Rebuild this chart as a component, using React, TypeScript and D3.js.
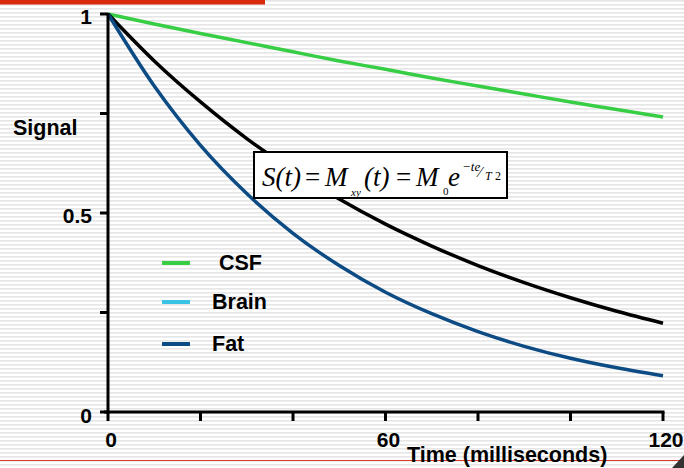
import React from "react";
import * as d3 from "d3";

const times = [0, 10, 20, 30, 40, 50, 60, 70, 80, 90, 100, 110, 120];
const csf = [1, 0.975, 0.951, 0.928, 0.905, 0.882, 0.861, 0.839, 0.819, 0.799, 0.779, 0.76, 0.741];
const brain = [1, 0.882, 0.779, 0.687, 0.607, 0.535, 0.472, 0.417, 0.368, 0.325, 0.287, 0.253, 0.223];
const fat = [1, 0.819, 0.67, 0.549, 0.449, 0.368, 0.301, 0.247, 0.202, 0.165, 0.135, 0.111, 0.091];
const xTicks = [0, 20, 40, 60, 80, 100, 120];
const xTickLabels = [0, 60, 120];
const yTicks = [0, 0.25, 0.5, 0.75, 1];
const yTickLabels = [0, 0.5, 1];
const legendItems = [
  { label: "CSF", color: "#37cd45" },
  { label: "Brain", color: "#39c2e2" },
  { label: "Fat", color: "#0c4b84" },
];

const W = 684;
const H = 468;

export default function App() {
  const x = d3.scaleLinear().domain([0, 120]).range([108, 663]);
  const y = d3.scaleLinear().domain([0, 1]).range([412, 14]);
  const line = d3
    .line<number>()
    .x((_, i) => x(times[i]))
    .y((d) => y(d))
    .curve(d3.curveMonotoneX);

  const bold = { fontFamily: "Liberation Sans, Arial, sans-serif", fontWeight: 700, fontSize: 21.5 };
  const serif = { fontFamily: "Liberation Serif, Times New Roman, serif", fontStyle: "italic" as const };

  const legendY = [263, 302, 344];
  const legendTextX = [219, 212, 212];

  return (
    <svg width={W} height={H} style={{ position: "absolute", left: 0, top: 0 }}>
      <defs>
        <pattern id="bg" width={8} height={4} patternUnits="userSpaceOnUse">
          <rect width={8} height={4} fill="#ffffff" />
          <rect y={0} width={8} height={1.6} fill="#e6e6e6" />
        </pattern>
      </defs>
      <rect width={W} height={H} fill="url(#bg)" />
      <rect x={0} y={0} width={265} height={4.5} fill="#d9290c" />
      <line x1={0} x2={W} y1={460.5} y2={460.5} stroke="#d83a2c" strokeWidth={1.2} />
      <path d="M672,468 L684,455 L684,468 Z" fill="#333" />

      {/* curves */}
      <path d={line(csf) || ""} fill="none" stroke="#37cd45" strokeWidth={3.5} />
      <path d={line(brain) || ""} fill="none" stroke="#000" strokeWidth={3.5} />
      <path d={line(fat) || ""} fill="none" stroke="#0c4b84" strokeWidth={3.5} />

      {/* axes */}
      <line x1={x(0)} x2={x(0)} y1={y(1) - 1} y2={y(0) + 2} stroke="#000" strokeWidth={3} />
      <line x1={x(0) - 4} x2={x(120) + 1.5} y1={y(0)} y2={y(0)} stroke="#000" strokeWidth={3} />
      {yTicks.map((t) => (
        <line key={"yt" + t} x1={x(0) - 8} x2={x(0)} y1={y(t)} y2={y(t)} stroke="#000" strokeWidth={3} />
      ))}
      {xTicks.map((t) => (
        <line key={"xt" + t} x1={x(t)} x2={x(t)} y1={y(0)} y2={y(0) + 9} stroke="#000" strokeWidth={3} />
      ))}
      {yTickLabels.map((t) => (
        <text
          key={"yl" + t}
          x={x(0) - 16}
          y={y(t) + (t === 0 ? 11 : 10)}
          textAnchor="end"
          style={{ ...bold, fontSize: 21 }}
        >
          {String(t)}
        </text>
      ))}
      {xTickLabels.map((t) => (
        <text key={"xl" + t} x={x(t) + 3} y={447} textAnchor="middle" style={{ ...bold, fontSize: 21 }}>
          {String(t)}
        </text>
      ))}
      <text x={13} y={135} style={bold}>Signal</text>
      <text x={407} y={462} style={bold}>Time (milliseconds)</text>

      {/* legend */}
      {legendItems.map((d, i) => (
        <g key={d.label}>
          <line x1={162} x2={190} y1={legendY[i]} y2={legendY[i]} stroke={d.color} strokeWidth={4} />
          <text x={legendTextX[i]} y={legendY[i] + 7} style={bold}>{d.label}</text>
        </g>
      ))}

      {/* formula box */}
      <rect x={254} y={152} width={253} height={46} fill="#fff" stroke="#000" strokeWidth={2} />
      <g style={serif} fill="#000">
        <text x={262} y={186} fontSize={27}>S(t)</text>
        <text x={305} y={186} fontSize={27} fontStyle="normal">=</text>
        <text x={325} y={186} fontSize={27}>M</text>
        <text x={351} y={196} fontSize={11}>xy</text>
        <text x={364} y={186} fontSize={27}>(t)</text>
        <text x={396} y={186} fontSize={27} fontStyle="normal">=</text>
        <text x={416} y={186} fontSize={27}>M</text>
        <text x={443} y={195} fontSize={11} fontStyle="normal">0</text>
        <text x={448} y={186} fontSize={27}>e</text>
        <text x={462} y={171} fontSize={13}>−te</text>
        <text x={479} y={177} fontSize={15}>⁄</text>
        <text x={485} y={180} fontSize={12}>T</text>
        <text x={495} y={180} fontSize={12} fontStyle="normal">2</text>
      </g>
    </svg>
  );
}
